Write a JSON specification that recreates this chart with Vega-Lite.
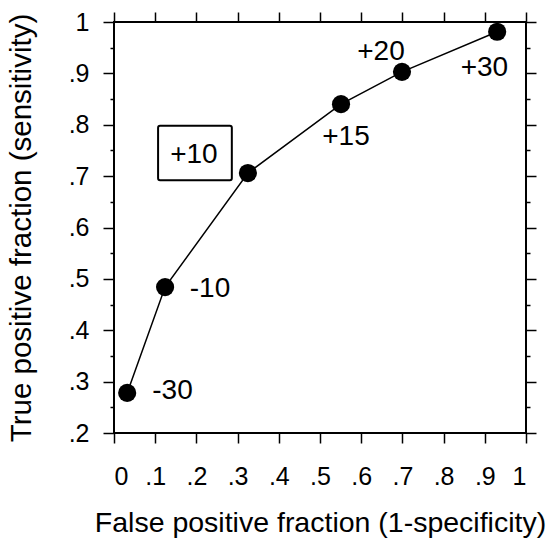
{
  "$schema": "https://vega.github.io/schema/vega-lite/v6.json",
  "autosize": "none",
  "padding": {"left": 114, "top": 22, "right": 30, "bottom": 107},
  "width": 412,
  "height": 411,
  "background": "white",
  "config": {
    "view": {"stroke": "black", "strokeWidth": 2},
    "font": "Liberation Sans",
    "axis": {"domain": false, "grid": false, "tickColor": "black", "tickWidth": 1.5, "labelColor": "black", "titleColor": "black", "labelFont": "Liberation Sans", "titleFont": "Liberation Sans", "titleFontWeight": "normal"}
  },
  "datasets": {
    "pts": [
      {"fpf": 0.032, "tpf": 0.278, "label": "-30", "lx": 0.142, "ly": 0.282},
      {"fpf": 0.124, "tpf": 0.484, "label": "-10", "lx": 0.233, "ly": 0.480},
      {"fpf": 0.325, "tpf": 0.706, "label": "+10", "lx": 0.194, "ly": 0.742},
      {"fpf": 0.551, "tpf": 0.840, "label": "+15", "lx": 0.563, "ly": 0.777},
      {"fpf": 0.699, "tpf": 0.903, "label": "+20", "lx": 0.648, "ly": 0.942},
      {"fpf": 0.930, "tpf": 0.981, "label": "+30", "lx": 0.899, "ly": 0.911}
    ],
    "box": [
      {"bx1": 0.107, "bx2": 0.286, "by1": 0.692, "by2": 0.798}
    ]
  },
  "resolve": {"axis": {"x": "independent", "y": "independent"}},
  "layer": [
    {
      "data": {"name": "pts"},
      "mark": {"type": "line", "color": "black", "strokeWidth": 1.5},
      "encoding": {
        "x": {"field": "fpf", "type": "quantitative",
          "scale": {"domain": [0, 1], "nice": false, "zero": false},
          "axis": {"orient": "bottom", "values": [0, 0.1, 0.2, 0.3, 0.4, 0.5, 0.6, 0.7, 0.8, 0.9, 1],
            "tickSize": 10, "labelPadding": 21, "labelFontSize": 25,
            "labelExpr": "datum.value == 0 ? '0' : datum.value == 1 ? '1' : '.' + round(datum.value*10)",
            "title": "False positive fraction (1-specificity)", "titleFontSize": 28.5, "titlePadding": 19}},
        "y": {"field": "tpf", "type": "quantitative",
          "scale": {"domain": [0.2, 1], "nice": false, "zero": false},
          "axis": {"orient": "left", "values": [0.2, 0.3, 0.4, 0.5, 0.6, 0.7, 0.8, 0.9, 1],
            "tickSize": 11, "labelPadding": 14, "labelFontSize": 25,
            "labelExpr": "datum.value == 0 ? '0' : datum.value == 1 ? '1' : '.' + round(datum.value*10)",
            "title": "True positive fraction (sensitivity)", "titleFontSize": 29.5, "titlePadding": 32}}
      }
    },
    {
      "data": {"name": "pts"},
      "mark": {"type": "point", "filled": true, "color": "black", "opacity": 1, "size": 330},
      "encoding": {
        "x": {"field": "fpf", "type": "quantitative",
          "axis": {"orient": "top", "values": [0, 0.1, 0.2, 0.3, 0.4, 0.5, 0.6, 0.7, 0.8, 0.9, 1],
            "tickSize": 10, "labels": false, "title": null}},
        "y": {"field": "tpf", "type": "quantitative",
          "axis": {"orient": "right", "values": [0.2, 0.3, 0.4, 0.5, 0.6, 0.7, 0.8, 0.9, 1],
            "tickSize": 10, "labels": false, "title": null}}
      }
    },
    {
      "data": {"name": "box"},
      "mark": {"type": "rect", "fill": null, "fillOpacity": 0, "stroke": "black", "strokeWidth": 2, "cornerRadius": 2},
      "encoding": {
        "x": {"field": "bx1", "type": "quantitative", "axis": null},
        "x2": {"field": "bx2"},
        "y": {"field": "by1", "type": "quantitative",
          "axis": {"orient": "right", "values": [0.25, 0.35, 0.45, 0.55, 0.65, 0.75, 0.85, 0.95],
            "tickSize": 4, "labels": false, "title": null}},
        "y2": {"field": "by2"}
      }
    },
    {
      "data": {"name": "pts"},
      "mark": {"type": "text", "fontSize": 28, "color": "black", "align": "center", "baseline": "middle", "font": "Liberation Sans"},
      "encoding": {
        "x": {"field": "lx", "type": "quantitative", "axis": null},
        "y": {"field": "ly", "type": "quantitative",
          "axis": {"orient": "left", "values": [0.25, 0.35, 0.45, 0.55, 0.65, 0.75, 0.85, 0.95],
            "tickSize": 4, "labels": false, "title": null}},
        "text": {"field": "label"}
      }
    }
  ]
}
